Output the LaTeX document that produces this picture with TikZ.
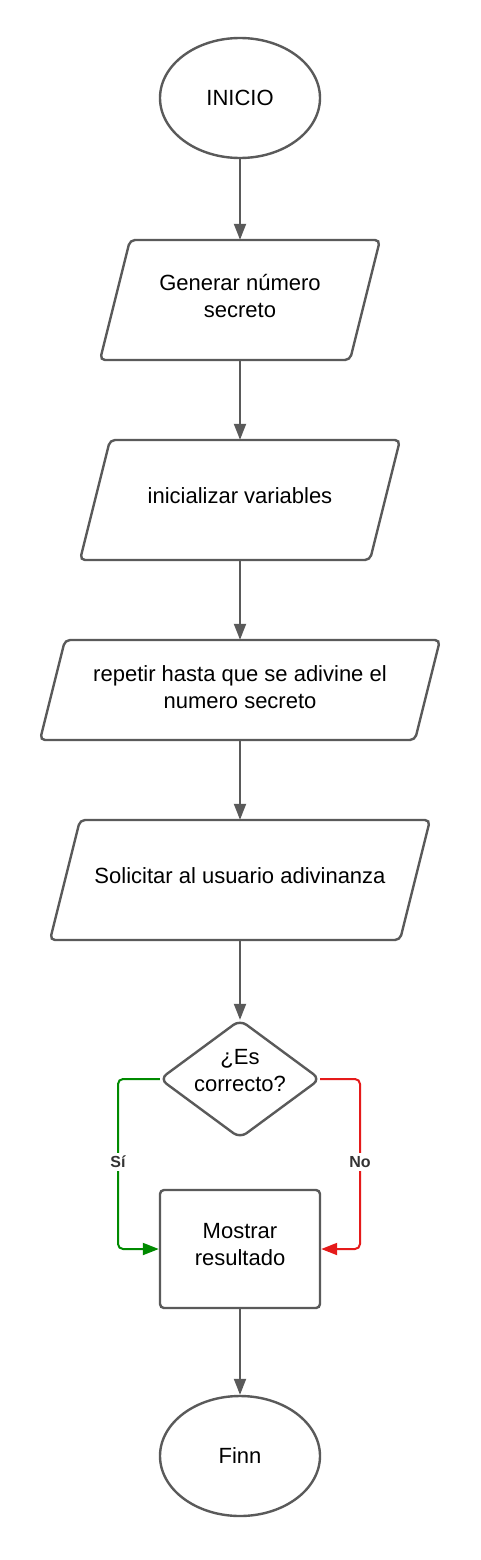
\documentclass[tikz,border=0pt]{standalone}
\usepackage{fontspec}
\setmainfont{Liberation Sans}
\usetikzlibrary{arrows.meta,shapes.geometric}
\definecolor{lc}{HTML}{5A5A5A}
\definecolor{gr}{HTML}{008A00}
\definecolor{rd}{HTML}{E51A1A}
\tikzset{
  x=1pt,y=-1pt,
  shp/.style={draw=lc,line width=2.4pt,rounded corners=5pt},
  txt/.style={font=\fontsize{22}{27}\selectfont,align=center,text=black},
  box/.style={minimum width=#1,minimum height=120pt,inner sep=0pt,draw=none},
  arr/.style={draw=lc,line width=2pt,-{Triangle[length=16pt,width=12pt]}},
  lbl/.style={font=\fontsize{16}{18}\selectfont\bfseries,text=black!80,fill=white,inner sep=3pt},
}
\begin{document}
\begin{tikzpicture}
\useasboundingbox[fill=white] (0,0) rectangle (480,1560);
% ellipses
\node[ellipse,draw=lc,line width=2.4pt,minimum width=160pt,minimum height=120pt,inner sep=0pt,txt] (ini) at (240,98) {INICIO};
\node[ellipse,draw=lc,line width=2.4pt,minimum width=160pt,minimum height=120pt,inner sep=0pt,txt] (fin) at (240,1456) {Finn};
% parallelograms
\node[box=280pt] (p1) at (240,300) {};
\draw[shp] (130,240) -- (380,240) -- (350,360) -- (100,360) -- cycle;
\node[txt] at (240,296) {Generar número\\secreto};
\node[box=320pt] (p2) at (240,500) {};
\draw[shp] (110,440) -- (400,440) -- (370,560) -- (80,560) -- cycle;
\node[txt] at (240,496) {inicializar variables};
\node[box=400pt,minimum height=100pt] (p3) at (240,690) {};
\draw[shp] (65,640) -- (440,640) -- (415,740) -- (40,740) -- cycle;
\node[txt] at (240,687) {repetir hasta que se adivine el\\numero secreto};
\node[box=380pt] (p4) at (240,880) {};
\draw[shp] (80,820) -- (430,820) -- (400,940) -- (50,940) -- cycle;
\node[txt] at (240,876) {Solicitar al usuario adivinanza};
% decision
\node[box=160pt,minimum height=118pt] (d) at (240,1079) {};
\draw[shp,rounded corners=8pt] (240,1020) -- (320,1079) -- (240,1138) -- (160,1079) -- cycle;
\node[txt] at (240,1071) {¿Es\\correcto?};
% result
\node[draw=lc,line width=2.4pt,rounded corners=4pt,minimum width=160pt,minimum height=118pt,inner sep=0pt,txt] (r) at (240,1249) {};
\node[txt] at (240,1245) {Mostrar\\resultado};
% connectors
\draw[arr] (ini.south) -- (p1.north);
\draw[arr] (p1.south) -- (p2.north);
\draw[arr] (p2.south) -- (p3.north);
\draw[arr] (p3.south) -- (p4.north);
\draw[arr] (p4.south) -- (d.north);
\draw[arr] (r.south) -- (fin.north);
\coordinate (gc) at (118,1162);
\coordinate (rc) at (360,1162);
\draw[arr,draw=gr,rounded corners=5pt] (d.west) -| (gc) |- (r.west);
\node[lbl] (si) at (gc) {Sí};
\draw[arr,draw=rd,rounded corners=5pt] (d.east) -| (rc) |- (r.east);
\node[lbl] (no) at (rc) {No};
\end{tikzpicture}
\end{document}
